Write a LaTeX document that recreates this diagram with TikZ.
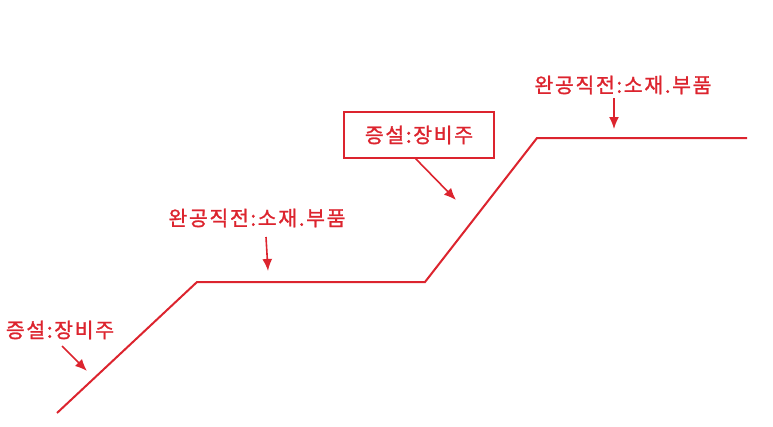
\documentclass[tikz,border=0pt]{standalone}
\usepackage{fontspec}
\setmainfont{Noto Sans CJK KR}[FakeBold=1.2,LetterSpace=8]
\usetikzlibrary{arrows.meta}
\definecolor{lred}{RGB}{220,36,46}
\begin{document}
\begin{tikzpicture}[x=1pt,y=-1pt,
  lbl/.style={text=lred,font=\fontsize{20.5}{22}\selectfont,inner sep=0pt},
  arr/.style={draw=lred,line width=1.6pt,-{Latex[length=12pt,width=10pt]}},
  stepline/.style={draw=lred,line width=2pt}]
\useasboundingbox (0,0) rectangle (773,426);
\coordinate (p0) at (57,413);
\coordinate (p1) at (197,282);
\coordinate (p2) at (425,282);
\coordinate (p3) at (537,138);
\coordinate (p4) at (747,138);
\draw[stepline] (p0) -- (p1) -- (p2) -- (p3) -- (p4);
\node[lbl] (la) at (60,330) {증설:장비주};
\node[lbl] (lb) at (257,218) {완공직전:소재.부품};
\node[lbl] (lc) at (623,85) {완공직전:소재.부품};
\node[lbl,draw=lred,line width=1.6pt,minimum width=150pt,minimum height=46pt] (ld) at (419,135) {증설:장비주};
\coordinate (sa) at (62,346);
\coordinate (sb) at (266,237);
\coordinate (sc) at (614,98);
\coordinate (sd) at (415,158);
\coordinate (ta) at (87,371);
\coordinate (tb) at (268,271);
\coordinate (tc) at (614,129);
\coordinate (td) at (456,200);
\draw[arr] (sa) -- (ta);
\draw[arr] (sb) -- (tb);
\draw[arr] (sc) -- (tc);
\draw[arr] (sd) -- (td);
\end{tikzpicture}
\end{document}
